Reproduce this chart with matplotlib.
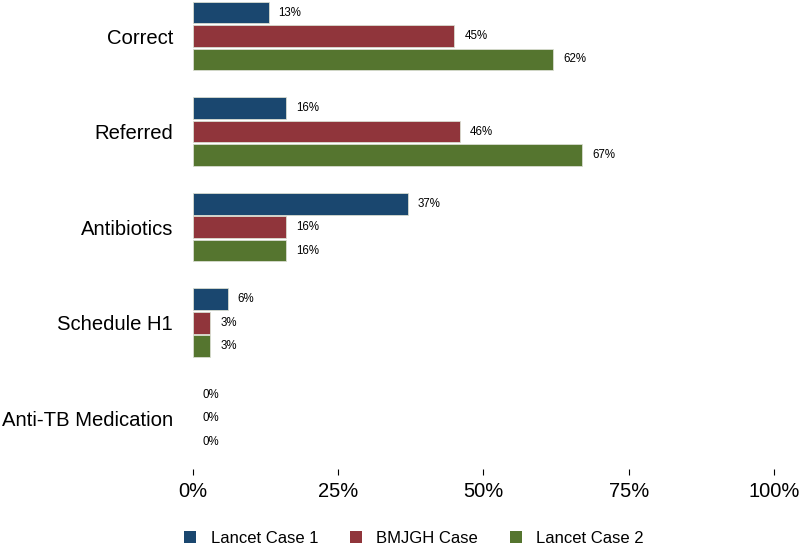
import matplotlib
matplotlib.use("Agg")
import matplotlib.pyplot as plt
from matplotlib.patches import Patch
import numpy as np

plt.rcParams['font.family'] = ['Liberation Sans', 'DejaVu Sans']

categories = ["Correct", "Referred", "Antibiotics", "Schedule H1", "Anti-TB Medication"]
series = ["Lancet Case 1", "BMJGH Case", "Lancet Case 2"]
lancet1 = [13, 16, 37, 6, 0]
bmjgh = [45, 46, 16, 3, 0]
lancet2 = [62, 67, 16, 3, 0]
colors = ["#1a476f", "#90353b", "#55752f"]

fig = plt.figure(figsize=(8, 5.45), dpi=100)
ax = fig.add_axes([0.24125, 0.1394, 0.72625, 0.8606])

y = np.arange(len(categories))
offsets = [-0.246, 0, 0.246]
for vals, off, c in zip([lancet1, bmjgh, lancet2], offsets, colors):
    lw = [0.6 if v > 0 else 0 for v in vals]
    ax.barh(y + off, vals, height=0.23, color=c, edgecolor="#d8dcd0", linewidth=lw)
    for yi, v in zip(y + off, vals):
        ax.text(v + 1.7, yi, f"{v}%", va="center", ha="left", fontsize=8.3)

ax.set_xlim(0, 100)
ax.set_ylim(4.534, -0.377)
ax.set_xticks([0, 25, 50, 75, 100])
ax.set_xticklabels(["0%", "25%", "50%", "75%", "100%"], fontsize=14.5)
ax.set_yticks(y)
ax.set_yticklabels(categories, fontsize=14.6)
ax.tick_params(axis="y", length=0, pad=14.4)
ax.tick_params(axis="x", length=4, width=0.8, pad=5)
for s in ax.spines.values():
    s.set_visible(False)

handles = [Patch(facecolor=c, edgecolor="none") for c in colors]
fig.legend(handles, series, loc="center", bbox_to_anchor=(0.5175, 0.012), ncol=3,
           frameon=False, fontsize=12, handlelength=0.75, handleheight=0.75,
           columnspacing=1.9, handletextpad=0.85, borderpad=0)

fig.savefig("out.png", dpi=100)
